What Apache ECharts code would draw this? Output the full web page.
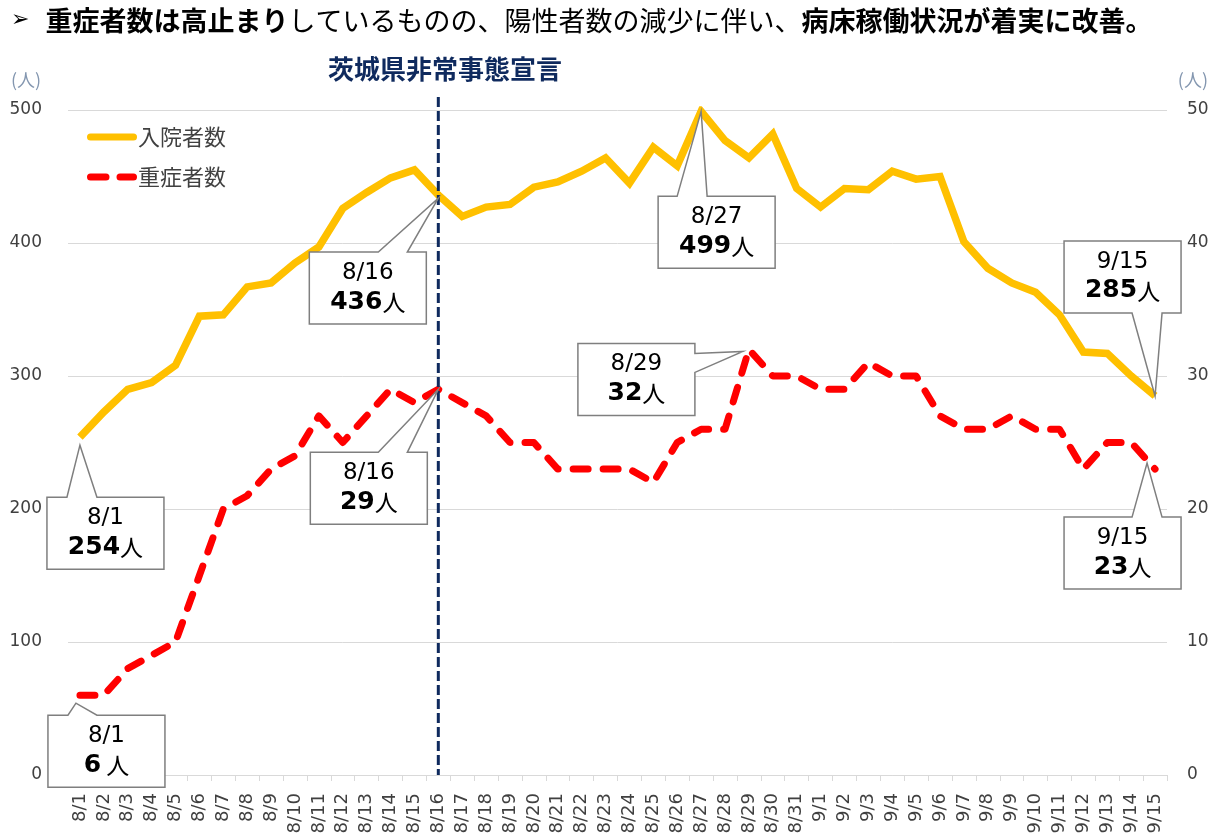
<!DOCTYPE html>
<html>
<head>
<meta charset="utf-8">
<script src="https://cdn.jsdelivr.net/npm/echarts@6/dist/echarts.min.js"></script>
<style>
html,body{margin:0;padding:0;background:#fff;}
#c{width:1217px;height:837px;}
</style>
</head>
<body>
<div id="c"></div>
<script>
const categories = ['8/1','8/2','8/3','8/4','8/5','8/6','8/7','8/8','8/9','8/10','8/11','8/12','8/13','8/14','8/15','8/16','8/17','8/18','8/19','8/20','8/21','8/22','8/23','8/24','8/25','8/26','8/27','8/28','8/29','8/30','8/31','9/1','9/2','9/3','9/4','9/5','9/6','9/7','9/8','9/9','9/10','9/11','9/12','9/13','9/14','9/15'];
const hospitalized = [254,273,290,295,308,345,346,367,370,385,397,426,438,449,455,436,420,427,429,442,446,454,464,445,472,458,499,477,464,482,441,427,441,440,454,448,450,401,381,370,363,346,318,317,300,285];
const severe = [6,6,8,9,10,15,20,21,23,24,27,25,27,29,28,29,28,27,25,25,23,23,23,23,22,25,26,26,32,30,30,29,29,31,30,30,27,26,26,27,26,26,23,25,25,23];
const seriesNames = ['入院者数','重症者数'];
const declarationDate = '8/16';
const declarationText = '茨城県非常事態宣言';
const unitLabel = '(人)';
// callouts: series index, category, box placement relative to point
const callouts = [
  {s:0, cat:'8/1',  dx:-33, dy:60,  side:'top',    b1:20, b2:50, tip:[0,8]},
  {s:0, cat:'8/16', dx:-129,dy:57,  side:'top',    b1:69, b2:98, tip:[0,3]},
  {s:0, cat:'8/27', dx:-43, dy:85,  side:'top',    b1:19, b2:49, tip:[0,0]},
  {s:0, cat:'9/15', dx:-91, dy:-155,side:'bottom', b1:68, b2:98, tip:[0,0]},
  {s:1, cat:'8/16', dx:-128,dy:63,  side:'top',    b1:68, b2:97, tip:[0,0]},
  {s:1, cat:'8/29', dx:-171,dy:-6,  side:'right',  b1:10, b2:29, tip:[-6,2]},
  {s:1, cat:'8/1',  dx:-32, dy:20,  side:'top',    b1:20, b2:49, tip:[-4,8]},
  {s:1, cat:'9/15', dx:-91, dy:48,  side:'top',    b1:68, b2:98, tip:[-8,-6]}
];

const chart = echarts.init(document.getElementById('c'));
const txtFont = '"DejaVu Sans","Noto Sans CJK JP",sans-serif';
const cjkFont = '"Noto Sans CJK JP",sans-serif';
const solidIcon = 'path://M3.5,0H46.5A3.5,3.5 0 0 1 46.5,7H3.5A3.5,3.5 0 0 1 3.5,0Z';
const dashIcon = 'path://M3.5,0H19A3.5,3.5 0 0 1 19,7H3.5A3.5,3.5 0 0 1 3.5,0Z M33,0H46.5A3.5,3.5 0 0 1 46.5,7H33A3.5,3.5 0 0 1 33,0Z';

chart.setOption({
  animation:false,
  backgroundColor:'#fff',
  title:[
    {
      left:6, top:2,
      text:'{ar|➢}{b|重症者数は高止まり}{n|しているものの、陽性者数の減少に伴い、}{b|病床稼働状況が着実に改善。}',
      textStyle:{
        rich:{
          ar:{fontSize:22, fontFamily:txtFont, color:'#000', padding:[0,16,0,0]},
          b:{fontSize:27, fontWeight:'bold', fontFamily:cjkFont, color:'#000'},
          n:{fontSize:27, fontWeight:'normal', fontFamily:cjkFont, color:'#000'}
        }
      }
    },
    {
      left:440, top:51, textAlign:'center',
      text:declarationText,
      textStyle:{fontSize:26, fontWeight:'bold', fontFamily:cjkFont, color:'#0f2a5e'}
    },
    {
      left:6, top:66, text:unitLabel,
      textStyle:{fontSize:18, fontWeight:'normal', fontFamily:cjkFont, color:'#8497b0'}
    },
    {
      right:4, top:66, text:unitLabel,
      textStyle:{fontSize:18, fontWeight:'normal', fontFamily:cjkFont, color:'#8497b0'}
    }
  ],
  legend:{
    orient:'vertical', left:82, top:121, itemWidth:50, itemHeight:7, itemGap:18,
    data:[{name:seriesNames[0], icon:solidIcon},{name:seriesNames[1], icon:dashIcon}],
    textStyle:{fontSize:22, fontFamily:cjkFont, color:'#404040', padding:[0,0,0,-4]}
  },
  grid:{left:68, right:50, top:110, bottom:62},
  xAxis:{
    type:'category', data:categories, boundaryGap:true,
    axisLine:{lineStyle:{color:'#d9d9d9', width:1}},
    axisTick:{show:true, alignWithLabel:false, length:6, lineStyle:{color:'#d9d9d9'}},
    axisLabel:{rotate:90, interval:0, fontSize:18, fontFamily:txtFont, color:'#404040', margin:18}
  },
  yAxis:[
    {type:'value', min:0, max:500, interval:100, position:'left',
     axisLine:{show:false}, axisTick:{show:false},
     splitLine:{lineStyle:{color:'#d9d9d9', width:1}},
     axisLabel:{fontSize:17, fontFamily:txtFont, color:'#404040', margin:26}},
    {type:'value', min:0, max:50, interval:10, position:'right',
     axisLine:{show:false}, axisTick:{show:false}, splitLine:{show:false},
     axisLabel:{fontSize:17, fontFamily:txtFont, color:'#404040', margin:20}}
  ],
  series:[
    {name:seriesNames[0], type:'line', yAxisIndex:0, data:hospitalized, symbol:'none',
     lineStyle:{color:'#ffc000', width:7.5, join:'miter'}, itemStyle:{color:'#ffc000'}, z:3},
    {name:seriesNames[1], type:'line', yAxisIndex:1, data:severe, symbol:'none',
     lineStyle:{color:'#ff0000', width:7, type:[15,15], cap:'round', join:'round'}, itemStyle:{color:'#ff0000'}, z:4}
  ]
});

function build(){
  const g = [];
  const decIdx = categories.indexOf(declarationDate);
  const top = chart.convertToPixel({yAxisIndex:0}, 500);
  const bot = chart.convertToPixel({yAxisIndex:0}, 0);
  const dx = chart.convertToPixel({xAxisIndex:0}, decIdx);
  g.push({type:'line', shape:{x1:dx, y1:top-13, x2:dx, y2:bot}, z:5,
          style:{stroke:'#0f2a5e', lineWidth:3, lineDash:[10,4]}});
  const W = 117, H = 72;
  callouts.forEach(c => {
    const i = categories.indexOf(c.cat);
    const v = c.s === 0 ? hospitalized[i] : severe[i];
    const p = chart.convertToPixel({xAxisIndex:0, yAxisIndex:c.s}, [i, v]);
    const L = p[0] + c.dx, T = p[1] + c.dy;
    const tip = [p[0] + c.tip[0], p[1] + c.tip[1]];
    let pts;
    if (c.side === 'top') {
      pts = [[L,T],[L+c.b1,T],tip,[L+c.b2,T],[L+W,T],[L+W,T+H],[L,T+H]];
    } else if (c.side === 'bottom') {
      pts = [[L,T],[L+W,T],[L+W,T+H],[L+c.b2,T+H],tip,[L+c.b1,T+H],[L,T+H]];
    } else {
      pts = [[L,T],[L+W,T],[L+W,T+c.b1],tip,[L+W,T+c.b2],[L+W,T+H],[L,T+H]];
    }
    g.push({type:'polygon', shape:{points:pts}, z:10,
            style:{fill:'#fff', stroke:'#7f7f7f', lineWidth:1.5}});
    const unitGap = (c.s === 1 && c.cat === '8/1') ? ' ' : '';
    g.push({type:'text', z:11, x:L+W/2, y:T+7,
      style:{
        text:'{a|'+c.cat+'}\n{b|'+v+'}{c|'+unitGap+'人}',
        align:'center', verticalAlign:'top',
        rich:{
          a:{fontSize:23, fontFamily:txtFont, color:'#000', lineHeight:28, align:'center'},
          b:{fontSize:25, fontWeight:'bold', fontFamily:txtFont, color:'#000', lineHeight:30},
          c:{fontSize:23, fontFamily:cjkFont, color:'#000', lineHeight:30}
        }
      }});
  });
  chart.setOption({graphic:g});
}
build();
</script>
</body>
</html>
